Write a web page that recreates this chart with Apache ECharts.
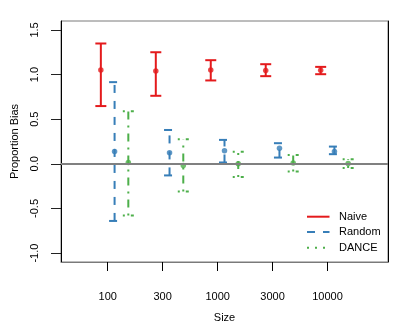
<!DOCTYPE html>
<html>
<head>
<meta charset="utf-8">
<script src="https://cdn.jsdelivr.net/npm/echarts@6/dist/echarts.min.js"></script>
<style>html,body{margin:0;padding:0;background:#fff;}#c{width:409px;height:327px;}</style>
</head>
<body>
<div id="c"></div>
<script>
const sizes = ['100', '300', '1000', '3000', '10000'];
const seriesNames = ['Naive', 'Random', 'DANCE'];
const naiveMid = [1.05, 1.04, 1.05, 1.046, 1.048];
const naiveLow = [0.647, 0.762, 0.934, 0.982, 1.004];
const naiveHigh = [1.348, 1.25, 1.161, 1.116, 1.086];
const randomMid = [0.137, 0.123, 0.145, 0.175, 0.137];
const randomLow = [-0.64, -0.13, 0.015, 0.07, 0.108];
const randomHigh = [0.915, 0.379, 0.268, 0.231, 0.193];
const danceMid = [0.015, -0.019, 0.0, 0.008, 0.003];
const danceLow = [-0.58, -0.309, -0.149, -0.086, -0.048];
const danceHigh = [0.59, 0.275, 0.134, 0.1, 0.052];
const yTicks = [-1, -0.5, 0, 0.5, 1, 1.5];

const FONT = '"Liberation Sans", Arial, sans-serif';
const colors = ['#E41A1C', '#377EB8', '#4DAF4A'];
const dashes = [null, [8, 8], [2, 6, 8, 6]];
const legendDashes = [null, [8, 8], [2, 6]];
const offsets = [-0.125, 0.125, 0.375];
const groups = [
  [naiveLow, naiveMid, naiveHigh],
  [randomLow, randomMid, randomHigh],
  [danceLow, danceMid, danceHigh]
];
const xPositions = sizes.map((s, i) => i + 1);

function makeRender(k) {
  return function (params, api) {
    const x = api.value(0), lo = api.value(1), hi = api.value(2);
    const a = api.coord([x, lo]);
    const b = api.coord([x, hi]);
    const hw = 5.5;
    const style = { stroke: colors[k], lineWidth: 2, lineDash: dashes[k], fill: null };
    return {
      type: 'group',
      children: [
        { type: 'line', shape: { x1: a[0], y1: a[1], x2: b[0], y2: b[1] }, style: style },
        { type: 'line', shape: { x1: a[0] - hw, y1: a[1], x2: a[0] + hw, y2: a[1] }, style: style },
        { type: 'line', shape: { x1: b[0] - hw, y1: b[1], x2: b[0] + hw, y2: b[1] }, style: style }
      ]
    };
  };
}

const series = [];
groups.forEach((g, k) => {
  series.push({
    type: 'custom',
    name: seriesNames[k],
    renderItem: makeRender(k),
    encode: { x: 0, y: [1, 2] },
    data: xPositions.map((p, i) => [p + offsets[k], g[0][i], g[2][i]]),
    z: 2
  });
  series.push({
    type: 'scatter',
    name: seriesNames[k] + ' est',
    symbol: 'circle',
    symbolSize: 5.5,
    itemStyle: { color: colors[k] },
    data: xPositions.map((p, i) => [p + offsets[k], g[1][i]]),
    z: 4
  });
});
series.push({
  type: 'line',
  name: 'zero',
  data: [],
  markLine: {
    silent: true,
    symbol: ['none', 'none'],
    label: { show: false },
    lineStyle: { color: '#808080', width: 2, type: 'solid' },
    data: [{ yAxis: 0 }]
  },
  z: 3
});

const graphic = [
  { type: 'text', style: { text: 'Size', font: '11px ' + FONT, fill: '#000', textAlign: 'center', textVerticalAlign: 'middle' }, position: [224.5, 318] },
  { type: 'text', style: { text: 'Proportion Bias', font: '11px ' + FONT, fill: '#000', textAlign: 'center', textVerticalAlign: 'middle' }, position: [15, 141.5], rotation: Math.PI / 2 }
];
const legendY = [216.7, 232, 247.7];
seriesNames.forEach((n, k) => {
  graphic.push({ type: 'line', shape: { x1: 307, y1: legendY[k], x2: 329.5, y2: legendY[k] }, style: { stroke: colors[k], lineWidth: 2, lineDash: legendDashes[k] } });
  graphic.push({ type: 'text', position: [339, legendY[k]], style: { text: n, font: '11px ' + FONT, fill: '#000', textAlign: 'left', textVerticalAlign: 'middle' } });
});

const chart = echarts.init(document.getElementById('c'), null, { renderer: 'canvas' });
chart.setOption({
  animation: false,
  backgroundColor: '#fff',
  grid: { left: 61, right: 21, top: 21, bottom: 65, show: true, borderColor: '#7a7a7a', borderWidth: 1, backgroundColor: 'transparent' },
  xAxis: {
    type: 'value', min: 0.15, max: 6.1,
    axisLine: { show: true, onZero: false, lineStyle: { color: '#7a7a7a', width: 1 } },
    axisTick: { show: true, customValues: xPositions, length: 9, lineStyle: { color: '#000' } },
    axisLabel: { customValues: xPositions, margin: 29, color: '#000', fontSize: 11, fontFamily: FONT, formatter: v => sizes[Math.round(v) - 1] },
    splitLine: { show: false }
  },
  yAxis: [{
    type: 'value', min: -1.1, max: 1.6,
    axisLine: { show: true, onZero: false, lineStyle: { color: '#000', width: 1 } },
    axisTick: { show: true, customValues: yTicks, length: 10, lineStyle: { color: '#222' } },
    axisLabel: { customValues: yTicks, rotate: 90, margin: 21, color: '#000', fontSize: 11, fontFamily: FONT, formatter: v => v.toFixed(1) },
    splitLine: { show: false }
  }, {
    type: 'value', min: -1.1, max: 1.6, position: 'right',
    axisLine: { show: true, onZero: false, lineStyle: { color: '#000', width: 1 } },
    axisTick: { show: false }, axisLabel: { show: false }, splitLine: { show: false }
  }],
  series: series,
  graphic: graphic
});
</script>
</body>
</html>
